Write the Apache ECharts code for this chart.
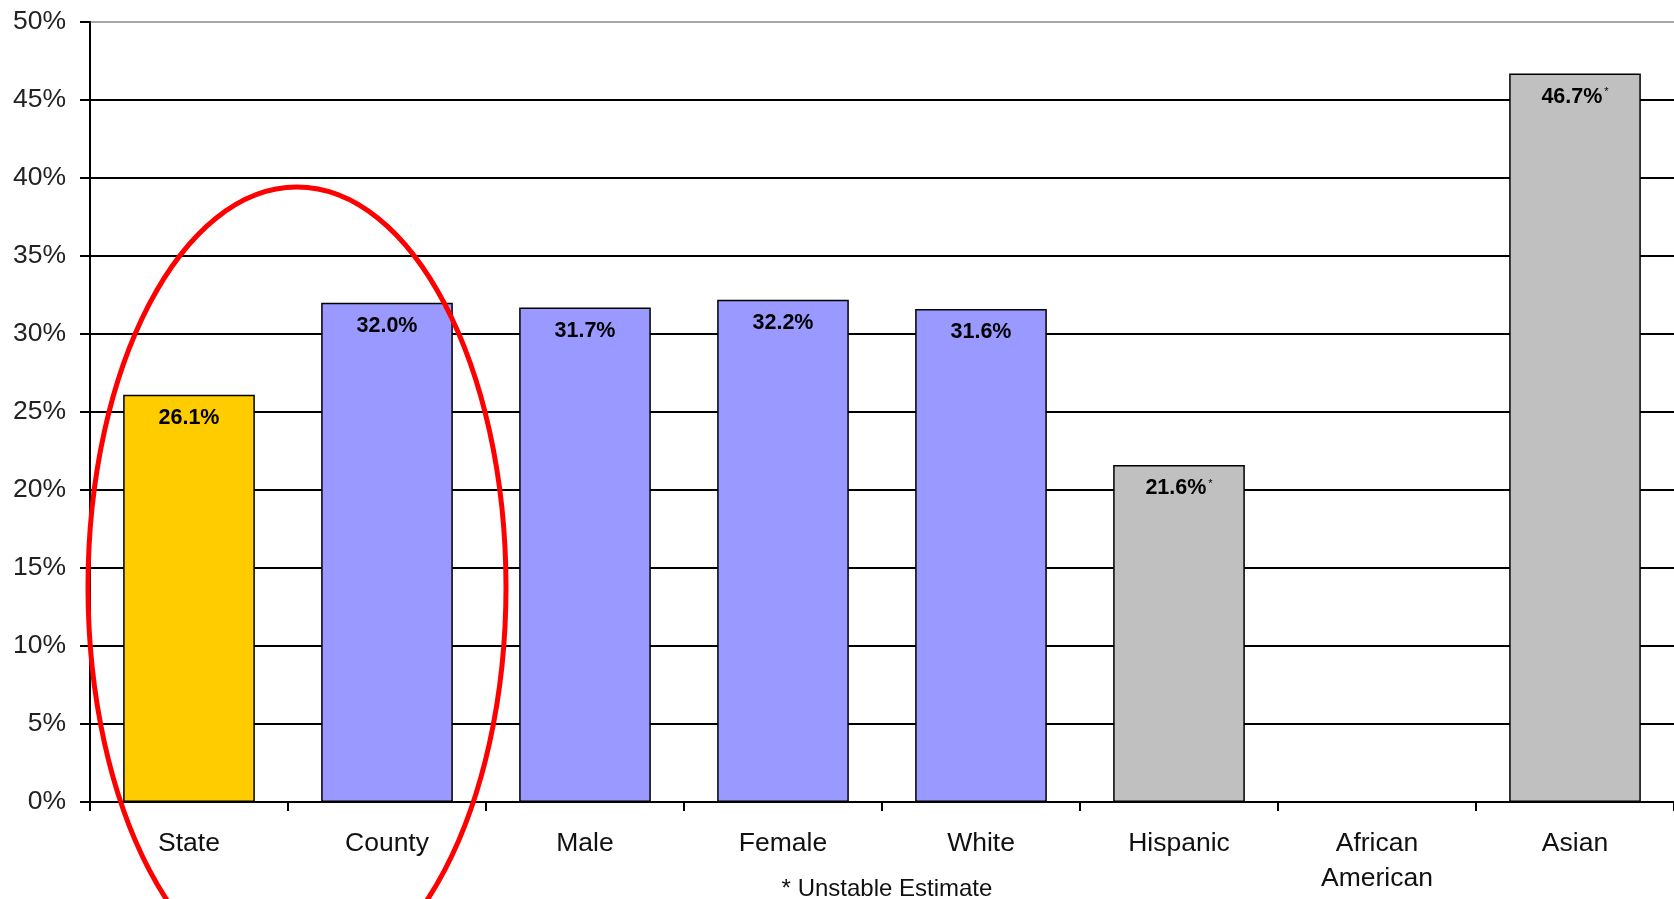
<!DOCTYPE html>
<html>
<head>
<meta charset="utf-8">
<script src="https://cdn.jsdelivr.net/npm/echarts@6/dist/echarts.min.js"></script>
<style>
html,body{margin:0;padding:0;background:#fff;}
#chart{width:1674px;height:899px;}
</style>
</head>
<body>
<div id="chart"></div>
<script>
var categories = ['State', 'County', 'Male', 'Female', 'White', 'Hispanic', 'African\nAmerican', 'Asian'];
var values = [26.1, 32.0, 31.7, 32.2, 31.6, 21.6, null, 46.7];
var unstable = [false, false, false, false, false, true, false, true];
var barColors = ['#FFCC00', '#9999FF', '#9999FF', '#9999FF', '#9999FF', '#C0C0C0', '#C0C0C0', '#C0C0C0'];
var yTicks = [0, 5, 10, 15, 20, 25, 30, 35, 40, 45, 50];
var footnote = '* Unstable Estimate';

var FONT = '"Liberation Sans", Arial, sans-serif';

var data = values.map(function (v, i) {
  return {
    value: v,
    itemStyle: { color: barColors[i] }
  };
});

var gridColors = yTicks.map(function (t, i) { return i === yTicks.length - 1 ? '#a8a8a8' : '#000'; });

var chart = echarts.init(document.getElementById('chart'), null, { renderer: 'canvas' });
chart.setOption({
  animation: false,
  backgroundColor: '#fff',
  grid: { left: 90, right: 0, top: 22, bottom: 97, containLabel: false },
  xAxis: {
    type: 'category',
    data: categories,
    axisLine: { show: true, lineStyle: { color: '#000', width: 2 } },
    axisTick: { show: true, length: 9, alignWithLabel: false, lineStyle: { color: '#000', width: 2 } },
    axisLabel: { color: '#111', fontSize: 26.5, fontFamily: FONT, margin: 24, lineHeight: 35, interval: 0 },
    splitLine: { show: false }
  },
  yAxis: {
    type: 'value',
    min: 0, max: 50, interval: 5,
    axisLine: { show: true, lineStyle: { color: '#000', width: 2 } },
    axisTick: { show: true, length: 10, lineStyle: { color: '#000', width: 2 } },
    axisLabel: { color: '#222', fontSize: 26.5, fontFamily: FONT, margin: 24, formatter: '{value}%' },
    splitLine: { show: true, lineStyle: { color: gridColors, width: 2 } }
  },
  series: [{
    type: 'bar',
    data: data,
    barWidth: '66.5%',
    itemStyle: { borderColor: '#000', borderWidth: 1.5 },
    label: {
      show: true,
      position: 'insideTop',
      distance: 13,
      formatter: function (p) {
        if (p.value == null) return '';
        var s = '{v|' + p.value.toFixed(1) + '%}';
        if (unstable[p.dataIndex]) s += '{s|*}';
        return s;
      },
      rich: {
        v: { fontSize: 21.5, fontWeight: 'bold', fontFamily: FONT, color: '#000', lineHeight: 21 },
        s: { fontSize: 11, fontFamily: FONT, color: '#000', lineHeight: 11, verticalAlign: 'top', padding: [0, 0, 8, 2] }
      }
    }
  }],
  graphic: [
    {
      type: 'ellipse',
      shape: { cx: 297, cy: 587, rx: 209, ry: 400 },
      style: { fill: 'none', stroke: '#ff0000', lineWidth: 5 },
      z: 100
    },
    {
      type: 'text',
      x: 887, y: 889,
      style: { text: footnote, fontSize: 24, fontFamily: FONT, fill: '#111', align: 'center', verticalAlign: 'middle' },
      z: 100
    }
  ]
});
</script>
</body>
</html>
